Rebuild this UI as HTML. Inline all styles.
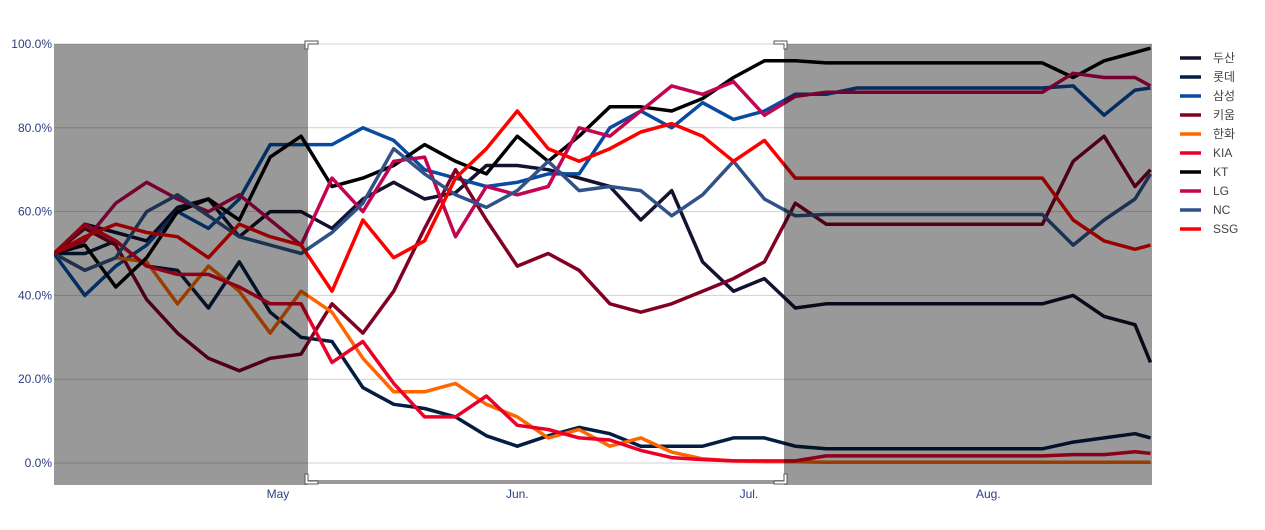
<!DOCTYPE html>
<html><head><meta charset="utf-8">
<style>
body{margin:0;background:#fff;width:1265px;height:525px;overflow:hidden;font-family:"Liberation Sans","Noto Sans CJK KR",sans-serif;}
svg text{font-family:"Liberation Sans","Noto Sans CJK KR",sans-serif;}
</style></head>
<body>
<svg id="chart" width="1265" height="525" xmlns="http://www.w3.org/2000/svg">
<defs><clipPath id="clip"><rect x="54" y="44" width="1098" height="441"/></clipPath></defs>
<rect x="54" y="44" width="1098" height="441" fill="#fff"/>
<g id="grid"></g>
<g id="lines" clip-path="url(#clip)"></g>
<rect x="54" y="44" width="254" height="441" fill="rgba(0,0,0,0.4)"/>
<rect x="784" y="44" width="368" height="441" fill="rgba(0,0,0,0.4)"/>
<line x1="308" y1="482" x2="784" y2="482" stroke="#999" stroke-width="4"/>
<path d="M305 49 V41 H318 V44 H308 V49 Z" fill="#fff" stroke="#555" stroke-width="1"/>
<path d="M787 49 V41 H774 V44 H784 V49 Z" fill="#fff" stroke="#555" stroke-width="1"/>
<path d="M305 474 V484 H318 V481 H308 V474 Z" fill="#fff" stroke="#555" stroke-width="1"/>
<path d="M787 474 V484 H774 V481 H784 V474 Z" fill="#fff" stroke="#555" stroke-width="1"/>
<g id="yticks"></g>
<g id="xticks"></g>
<g id="legend"></g>
</svg>
<script>
const days = [0,4,8,12,16,20,24,28,32,36,40,44,48,52,56,60,64,68,72,76,80,84,88,92,96,100,104,108,112,116,120,124,128,132,136,140,142];
const teams = ["두산","롯데","삼성","키움","한화","KIA","KT","LG","NC","SSG"];
const doosan = [50,57,55,53,61,63,54,60,60,56,63,67,63,64.5,71,71,70,68,66,58,65,48,41,44,37,38,38,38,38,38,38,38,38,40,35,33,24];
const lotte = [50,50,53,47,46,37,48,36,30,29,18,14,13,11,6.5,4,6.5,8.5,7,4,4,4,6,6,4,3.4,3.4,3.4,3.4,3.4,3.4,3.4,3.4,5,6,7,6];
const samsung = [50,40,47,52,60,56,63,76,76,76,80,77,70,68,66,67,69,69,80,84,80,86,82,84,88,88,89.5,89.5,89.5,89.5,89.5,89.5,89.5,90,83,89,89.5];
const kiwoom = [50,56,52,39,31,25,22,25,26,38,31,41,56,70,58,47,50,46,38,36,38,41,44,48,62,57,57,57,57,57,57,57,57,72,78,66,70];
const hanwha = [50,46,49,48,38,47,41,31,41,36,25,17,17,19,14,11,6,8,4,6,2.6,1,0.5,0.3,0.3,0.2,0.2,0.2,0.2,0.2,0.2,0.2,0.2,0.2,0.2,0.2,0.2];
const kia = [50,57,53,47,45,45,42,38,38,24,29,19,11,11,16,9,8,6,5.5,3,1.3,0.8,0.5,0.5,0.5,1.7,1.7,1.7,1.7,1.7,1.7,1.7,1.7,2,2,2.7,2.3];
const kt = [50,52,42,49,60,63,58,73,78,66,68,71,76,72,69,78,72,78,85,85,84,87,92,96,96,95.5,95.5,95.5,95.5,95.5,95.5,95.5,95.5,92,96,98,99];
const lg = [50,53,62,67,63,60,64,58,52,68,60,72,73,54,66,64,66,80,78,84,90,88,91,83,87.5,88.5,88.5,88.5,88.5,88.5,88.5,88.5,88.5,93,92,92,90];
const nc = [50,46,49,60,64,59,54,52,50,55,62,75,69,64,61,65,72,65,66,65,59,64,72,63,59,59.3,59.3,59.3,59.3,59.3,59.3,59.3,59.3,52,58,63,69];
const ssg = [50,54,57,55,54,49,57,54,52,41,58,49,53,68,75,84,75,72,75,79,81,78,72,77,68,68,68,68,68,68,68,68,68,58,53,51,52];
const seriesValues = [doosan,lotte,samsung,kiwoom,hanwha,kia,kt,lg,nc,ssg];
const colors = ["#131230","#041E42","#074CA1","#820024","#FF6600","#EA0029","#000000","#C30452","#315288","#FF0000"];
const yTicks = [0,20,40,60,80,100];
const xTickDays = [29,60,90,121];
const xTickLabels = ["May","Jun.","Jul.","Aug."];

const NS="http://www.w3.org/2000/svg";
const xScale = d => 54 + d*(1098/142.2);
const yScale = p => 463 - p*4.19;
function mk(tag, attrs, parent){const e=document.createElementNS(NS,tag);for(const k in attrs)e.setAttribute(k,attrs[k]);parent.appendChild(e);return e;}

const grid=document.getElementById('grid'), yt=document.getElementById('yticks');
yTicks.forEach(v=>{
  const l=mk('line',{x1:54,x2:1152,y1:yScale(v),y2:yScale(v),stroke:'#d0d0d0','stroke-width':1},grid);
  
  
  const t=mk('text',{x:52,y:yScale(v)+4,'text-anchor':'end','font-size':12,fill:'#2a3f7f'},yt);
  t.textContent=v.toFixed(1)+'%';
  
  
});
const xt=document.getElementById('xticks');
xTickDays.forEach((d,i)=>{
  const t=mk('text',{x:xScale(d),y:498,'text-anchor':'middle','font-size':12,fill:'#2a3f7f'},xt);
  t.textContent=xTickLabels[i];
  
  
});
const lines=document.getElementById('lines');
for(let s=0;s<seriesValues.length;s++){
  const pts=seriesValues[s].map((v,i)=>xScale(days[i]).toFixed(1)+','+yScale(v).toFixed(1)).join(' ');
  const pl=mk('polyline',{points:pts,fill:'none',stroke:colors[s],'stroke-width':3.5,'stroke-linejoin':'round'},lines);
  
  
}
const lg_=document.getElementById('legend');
teams.forEach((n,i)=>{
  const y=58+i*19;
  const g=mk('g',{},lg_);
  
  
  mk('line',{x1:1180,x2:1201,y1:y,y2:y,stroke:colors[i],'stroke-width':3.5},g);
  const t=mk('text',{x:1213,y:y+4,'font-size':12,fill:'#444'},g);
  t.textContent=n;
});
</script>
</body></html>
